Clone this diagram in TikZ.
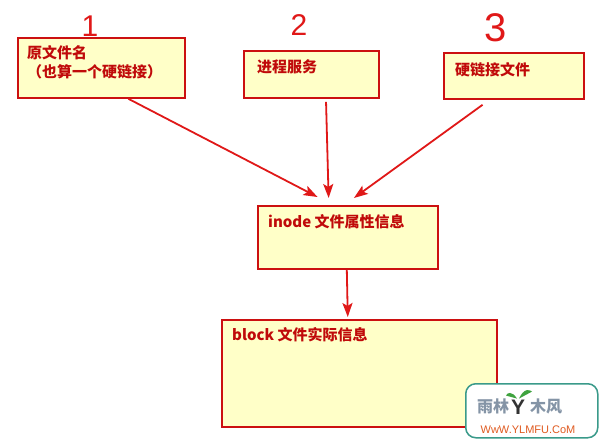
\documentclass[tikz,border=0pt]{standalone}
\usepackage{fontspec}
\newfontfamily\cjk{Noto Sans CJK SC}
\newfontfamily\numfont{Liberation Sans}
\usetikzlibrary{calc,arrows.meta}
\definecolor{boxred}{HTML}{CC1010}
\definecolor{boxfill}{HTML}{FFFFC8}
\definecolor{txtred}{HTML}{C00A0A}
\definecolor{arrred}{HTML}{E01818}
\definecolor{wmteal}{HTML}{3A9A8A}
\definecolor{wmgray}{HTML}{8494A6}
\definecolor{wmorange}{HTML}{E05A20}
\definecolor{wmgreen}{HTML}{3FA33F}
\begin{document}
\begin{tikzpicture}[x=1pt,y=-1pt,
  box/.style={draw=boxred, line width=1.8pt, fill=boxfill, inner sep=0pt, anchor=north west},
  lbl/.style={text=txtred, font=\cjk\bfseries\fontsize{15}{18}\selectfont, anchor=west, inner sep=0pt},
  arr/.style={draw=arrred, line width=1.8pt, -{Stealth[length=14pt,width=10pt,inset=3pt]}},
  num/.style={text=arrred, font=\numfont\fontsize{30}{30}\selectfont, inner sep=0pt},
  wmtxt/.style={text=wmgray, font=\cjk\bfseries\fontsize{16}{16}\selectfont, inner sep=0pt}]
\useasboundingbox (0,0) rectangle (600,447);
\fill[white] (0,0) rectangle (600,447);
% boxes
\node[box, minimum width=167pt, minimum height=60pt] (b1) at (17,37) {};
\node[box, minimum width=135pt, minimum height=47pt] (b2) at (243,50) {};
\node[box, minimum width=140pt, minimum height=46pt] (b3) at (443,52) {};
\node[box, minimum width=180pt, minimum height=63pt] (b4) at (257,205) {};
\node[box, minimum width=275pt, minimum height=107pt] (b5) at (221,319) {};
% labels
\node[lbl] (t1a) at (27,53) {原文件名};
\node[lbl] (t1b) at (27,72) {（也算一个硬链接）};
\node[lbl] (t2) at (257,67) {进程服务};
\node[lbl] (t3) at (455,70) {硬链接文件};
\node[lbl] (t4) at (268,222) {inode 文件属性信息};
\node[lbl] (t5) at (232,335) {block 文件实际信息};
% handwritten numbers
\node[num] (n1) at (90,26) {1};
\node[num] (n2) at (299,25) {2};
\node[num, font=\numfont\fontsize{40}{40}\selectfont] (n3) at (496,28) {3};
% arrows
\coordinate (a1s) at ($(b1.south west)!0.66!(b1.south east)$);
\coordinate (a1e) at ($(b4.north west)!0.333!(b4.north east)+(0,-8)$);
\coordinate (a2s) at ($(b2.south west)!0.607!(b2.south east)+(0,3)$);
\coordinate (a2e) at ($(b4.north west)!0.394!(b4.north east)+(0,-7)$);
\coordinate (a3s) at ($(b3.south west)!0.279!(b3.south east)+(0,5)$);
\coordinate (a3e) at ($(b4.north west)!0.533!(b4.north east)+(0,-7)$);
\coordinate (a4s) at ($(b4.south west)!0.494!(b4.south east)$);
\coordinate (a4e) at ($(b5.north west)!0.458!(b5.north east)+(0,-2)$);
\draw[arr] (a1s) -- (a1e);
\draw[arr] (a2s) -- (a2e);
\draw[arr] (a3s) -- (a3e);
\draw[arr] (a4s) -- (a4e);
% watermark
\node[draw=wmteal, line width=1.5pt, rounded corners=10pt, fill=white, minimum width=132pt, minimum height=54pt, anchor=north west] (wm) at (465,383) {};
\node[wmtxt] (wm1) at (493,406) {雨林};
\node[text=black!80, font=\numfont\bfseries\fontsize{21}{21}\selectfont, inner sep=0pt] (wmy) at (518,407) {Y};
\fill[wmgreen] ($(wmy.north)+(-1,-1)$) .. controls ($(wmy.north)+(-6,-9)$) and ($(wmy.north)+(-11,-7)$) .. ($(wmy.north)+(-12,-4)$) .. controls ($(wmy.north)+(-7,-3)$) .. cycle;
\fill[wmgreen] ($(wmy.north)+(1,-1)$) .. controls ($(wmy.north)+(6,-12)$) and ($(wmy.north)+(12,-10)$) .. ($(wmy.north)+(14,-8)$) .. controls ($(wmy.north)+(8,-4)$) .. cycle;
\node[wmtxt] (wm2) at (546,406) {木风};
\node[text=wmorange, font=\numfont\fontsize{11}{11}\selectfont, inner sep=0pt] (wmurl) at (528,430) {WwW.YLMFU.CoM};
\end{tikzpicture}
\end{document}
